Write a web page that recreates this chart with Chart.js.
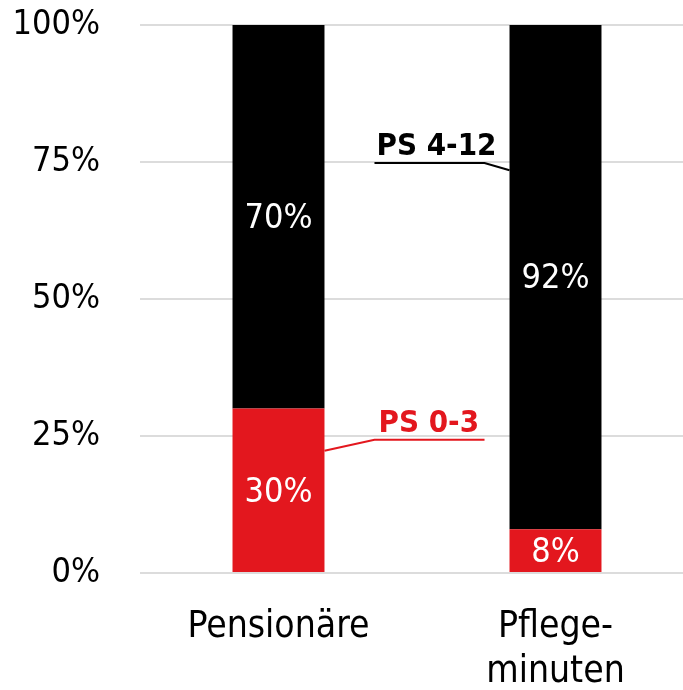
<!DOCTYPE html>
<html>
<head>
<meta charset="utf-8">
<script src="https://cdn.jsdelivr.net/npm/chart.js@4"></script>
<style>
  html, body { margin: 0; padding: 0; background: #fff; }
  #wrap { width: 683px; height: 690px; }
</style>
</head>
<body>
<div id="wrap"><canvas id="chart"></canvas></div>
<script>
let categories = [["Pensionäre"], ["Pflege-", "minuten"]];
let low = [30, 8];      // PS 0-3
let high = [70, 92];    // PS 4-12
let seriesNames = ["PS 0-3", "PS 4-12"];
let tickValues = [0, 25, 50, 75, 100];

let RED = "#e3171e";
let FONT = "'DejaVu Sans Condensed', 'DejaVu Sans', sans-serif";

// values inside the bars + the two callouts
let labelPlugin = {
  id: "labels",
  afterLayout(chart) {
    // plot runs a little past the right edge of the canvas
    let x = chart.scales.x;
    x.right += 11;
    x.width += 11;
    x.configure();
  },
  afterDatasetsDraw(chart) {
    let c = chart.ctx;
    let y = chart.scales.y;
    c.save();
    c.font = "34px " + FONT;
    c.fillStyle = "#fff";
    c.textAlign = "center";
    c.textBaseline = "middle";
    chart.data.datasets.forEach((ds, i) => {
      chart.getDatasetMeta(i).data.forEach((bar, j) => {
        let base = i == 0 ? 0 : low[j];
        let mid = y.getPixelForValue(base + ds.data[j] / 2);
        c.fillText(ds.data[j] + "%", bar.x, mid + 2);
      });
    });

    let b0 = chart.getDatasetMeta(0).data[0];
    let b1 = chart.getDatasetMeta(1).data[1];
    let x1 = b0.x + b0.width / 2, x2 = b1.x - b1.width / 2;
    let ls = x1 + 50, le = x2 - 25;
    c.lineWidth = 2;
    c.textAlign = "left";
    c.textBaseline = "alphabetic";
    c.font = "bold 31px " + FONT;

    // PS 4-12
    c.strokeStyle = "#000";
    c.fillStyle = "#000";
    c.beginPath();
    c.moveTo(ls, y.getPixelForValue(74.8));
    c.lineTo(le, y.getPixelForValue(74.8));
    c.lineTo(x2, y.getPixelForValue(73.5));
    c.stroke();
    c.fillText(seriesNames[1], ls + 2, y.getPixelForValue(74.8) - 8);

    // PS 0-3
    c.strokeStyle = RED;
    c.fillStyle = RED;
    c.beginPath();
    c.moveTo(le, y.getPixelForValue(24.3));
    c.lineTo(ls, y.getPixelForValue(24.3));
    c.lineTo(x1, y.getPixelForValue(22.3));
    c.stroke();
    c.fillText(seriesNames[0], ls + 4, y.getPixelForValue(24.3) - 8);
    c.restore();
  }
};

let ctx = document.getElementById("chart").getContext("2d");

let chart = new Chart(ctx, {
  type: "bar",
  data: {
    labels: categories,
    datasets: [
      { label: seriesNames[0], data: low, backgroundColor: RED },
      { label: seriesNames[1], data: high, backgroundColor: "#000" }
    ]
  },
  options: {
    responsive: true,
    maintainAspectRatio: false,
    animation: false,
    layout: { padding: 0 },
    datasets: { bar: { barPercentage: 0.332, categoryPercentage: 1 } },
    plugins: {
      legend: { display: false },
      tooltip: { enabled: false }
    },
    scales: {
      x: {
        stacked: true,
        grid: { display: false },
        border: { display: false },
        afterFit: (axis) => { axis.height = 117; },
        ticks: {
          color: "#000",
          font: { family: FONT, size: 37, lineHeight: 1.22 },
          padding: 24,
          maxRotation: 0
        }
      },
      y: {
        stacked: true,
        min: 0,
        max: 100,
        afterBuildTicks: (axis) => { axis.ticks = tickValues.map(v => ({ value: v })); },
        afterFit: (axis) => {
          axis.width = 140;
          axis.paddingTop = 25;
          axis.paddingBottom = 0;
        },
        grid: { color: "#dcdcdc", lineWidth: 2, drawTicks: false },
        border: { display: false },
        ticks: {
          color: "#000",
          font: { family: FONT, size: 34 },
          padding: 40,
          callback: (v) => v + "%"
        }
      }
    }
  },
  plugins: [labelPlugin]
});
</script>
</body>
</html>
